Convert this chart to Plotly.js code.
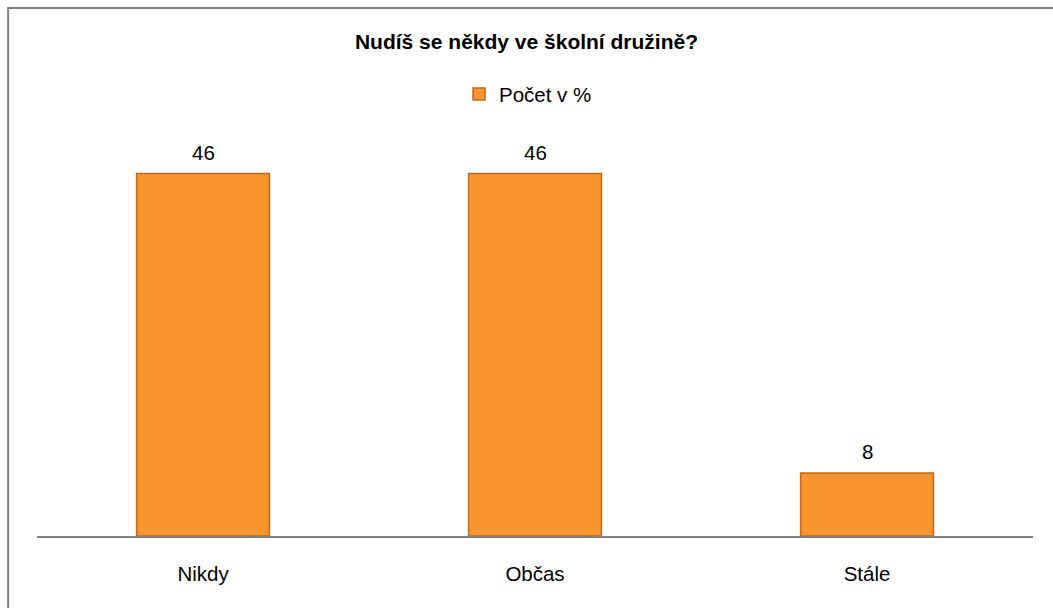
<!DOCTYPE html>
<html>
<head>
<meta charset="utf-8">
<script src="https://cdn.plot.ly/plotly-3.0.1.min.js"></script>
<style>html,body{margin:0;padding:0;background:#fff;}#chart{width:1053px;height:608px;}</style>
</head>
<body>
<div id="chart"></div>
<script>
const categories = ["Nikdy", "Občas", "Stále"];
const values = [46, 46, 8];
const seriesName = "Počet v %";
const chartTitle = "Nudíš se někdy ve školní družině?";

const FONT = "Arial, 'Liberation Sans', sans-serif";

const trace = {
  type: "bar",
  x: categories,
  y: values,
  name: seriesName,
  width: 0.4,
  marker: {color: "#F7962F", line: {color: "#C8671A", width: 1.5}},
  hoverinfo: "x+y"
};

const labels = categories.map((c, i) => ({
  x: c, y: values[i], xref: "x", yref: "y",
  text: String(values[i]), showarrow: false,
  yanchor: "middle", yshift: 21,
  font: {family: FONT, size: 20.5, color: "#000"}
}));

const layout = {
  width: 1053, height: 608,
  margin: {l: 37, r: 20, t: 142, b: 72},
  paper_bgcolor: "#fff", plot_bgcolor: "#fff",
  font: {family: FONT, size: 20.5, color: "#000"},
  title: {text: "<b>" + chartTitle + "</b>", x: 0.5, xanchor: "center", xref: "container",
          y: 0.9317, yanchor: "middle", yref: "container",
          font: {size: 21, family: FONT, color: "#000"}},
  showlegend: true,
  legend: {orientation: "h", xref: "container", yref: "container",
           x: 0.4359, xanchor: "left", y: 0.845, yanchor: "middle",
           bgcolor: "rgba(0,0,0,0)", font: {size: 20.5, family: FONT}, itemwidth: 30},
  xaxis: {showgrid: false, showline: true, linecolor: "#808080", linewidth: 1.5,
          ticks: "", ticklabelstandoff: 19, tickfont: {size: 20.5, family: FONT}, fixedrange: true},
  yaxis: {range: [0, 50], visible: false, showgrid: false, zeroline: false, fixedrange: true},
  annotations: labels,
  shapes: [{type: "rect", xref: "paper", yref: "paper", x0: -0.029, x1: 1.05, y0: -0.5, y1: 1.340,
            line: {color: "#7f7f7f", width: 2}, fillcolor: "rgba(0,0,0,0)", layer: "below"}]
};

Plotly.newPlot("chart", [trace], layout, {displayModeBar: false, staticPlot: true});
</script>
</body>
</html>
